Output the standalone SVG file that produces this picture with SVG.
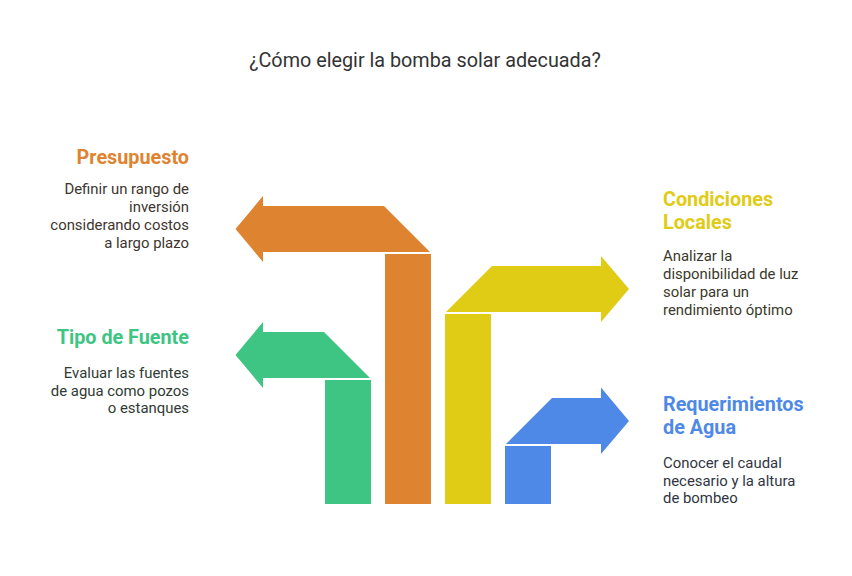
<svg xmlns="http://www.w3.org/2000/svg" width="852" height="576" viewBox="0 0 852 576">
<style>
text{font-family:Roboto,"Liberation Sans",Arial,sans-serif;}
.title{font-size:19.8px;fill:#333333;}
.head{font-size:19.8px;font-weight:bold;}
.body{font-size:14.9px;}
.r{text-anchor:end;}
.orange{fill:#DE8431;}
.green{fill:#3EC583;}
.yellow{fill:#E0CB15;}
.blue{fill:#4E89E7;}
</style>
<rect width="852" height="576" fill="#ffffff"/>
<text class="title" x="425" y="67" text-anchor="middle">¿Cómo elegir la bomba solar adecuada?</text>
<g id="connectors">
</g>
<g id="presupuesto">
<path class="orange" d="M235.5,229 L263,196 L263,206 L384,206 L430,252 L263,252 L263,262 Z"/>
<rect class="orange" x="385" y="254" width="46" height="250"/>
<text class="head r" x="189" y="164" fill="#DE8431">Presupuesto</text>
<text class="body r" x="189" y="194" fill="#3d352e">Definir un rango de</text>
<text class="body r" x="189" y="212" fill="#3d352e">inversión</text>
<text class="body r" x="189" y="230" fill="#3d352e">considerando costos</text>
<text class="body r" x="189" y="248" fill="#3d352e">a largo plazo</text>
</g>
<g id="tipo-fuente">
<path class="green" d="M235.5,355 L263,322 L263,332 L324,332 L370,378 L263,378 L263,388 Z"/>
<rect class="green" x="325" y="380" width="46" height="124"/>
<text class="head r" x="189" y="344" fill="#3EC583">Tipo de Fuente</text>
<text class="body r" x="189" y="378" fill="#2f3b34">Evaluar las fuentes</text>
<text class="body r" x="189" y="396" fill="#2f3b34">de agua como pozos</text>
<text class="body r" x="189" y="413" fill="#2f3b34">o estanques</text>
</g>
<g id="condiciones-locales">
<path class="yellow" d="M629,289 L601,256 L601,266 L492,266 L446,312 L601,312 L601,322 Z"/>
<rect class="yellow" x="445" y="314" width="46" height="190"/>
<text class="head" x="663" y="206" fill="#E0CB15">Condiciones</text>
<text class="head" x="663" y="229" fill="#E0CB15">Locales</text>
<text class="body" x="663" y="261" fill="#3a392a">Analizar la</text>
<text class="body" x="663" y="279" fill="#3a392a">disponibilidad de luz</text>
<text class="body" x="663" y="297" fill="#3a392a">solar para un</text>
<text class="body" x="663" y="315" fill="#3a392a">rendimiento óptimo</text>
</g>
<g id="requerimientos-agua">
<path class="blue" d="M629,421 L601,387.5 L601,398 L552,398 L506,444 L601,444 L601,454 Z"/>
<rect class="blue" x="505" y="446" width="46" height="58"/>
<text class="head" x="663" y="411" fill="#4E89E7">Requerimientos</text>
<text class="head" x="663" y="434" fill="#4E89E7">de Agua</text>
<text class="body" x="663" y="468" fill="#30353f">Conocer el caudal</text>
<text class="body" x="663" y="486" fill="#30353f">necesario y la altura</text>
<text class="body" x="663" y="503" fill="#30353f">de bombeo</text>
</g>
</svg>
